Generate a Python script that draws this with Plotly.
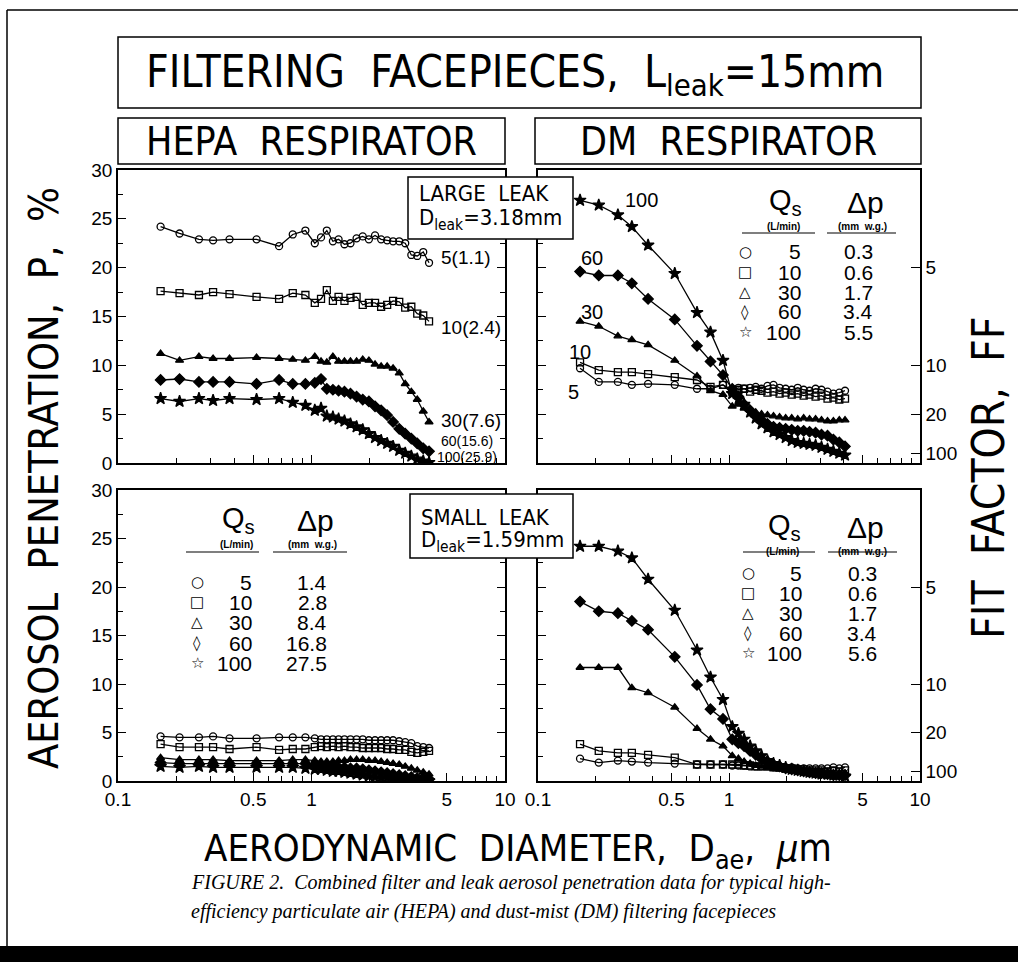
import plotly.graph_objects as go

W, H = 1018, 970

# ---------------- data ----------------
d_um = [0.166, 0.208, 0.262, 0.31, 0.377, 0.52, 0.68, 0.80, 0.93,
        1.04, 1.12, 1.20, 1.29, 1.38, 1.48, 1.59, 1.71, 1.84, 1.98,
        2.13, 2.29, 2.46, 2.64, 2.84, 3.05, 3.28, 3.52, 3.78, 4.05]

flow_qs = [5, 10, 30, 60, 100]

hepa_L_5 = [24.2, 23.5, 22.9, 22.8, 22.9, 22.9, 22.2, 23.4, 23.8, 22.5, 23.1, 23.8, 22.7, 22.9, 22.4,
            22.5, 23.0, 23.2, 22.9, 23.3, 22.9, 22.8, 22.7, 22.7, 22.5, 21.3, 21.2, 21.6, 20.5]
hepa_L_10 = [17.6, 17.4, 17.2, 17.5, 17.3, 17.0, 16.8, 17.4, 17.2, 16.4, 16.8, 17.7, 16.6, 17.0, 16.6,
             16.9, 17.0, 16.2, 16.4, 16.4, 16.0, 16.2, 16.6, 16.5, 15.9, 16.0, 15.3, 15.1, 14.5]
hepa_L_30 = [11.2, 10.5, 10.9, 10.7, 10.7, 10.8, 10.7, 10.6, 10.5, 10.9, 10.4, 10.3, 10.9, 10.4, 10.4,
             10.4, 10.4, 10.6, 10.5, 10.1, 9.9, 9.9, 9.7, 9.2, 8.1, 7.3, 6.5, 5.3, 4.2]
hepa_L_60 = [8.5, 8.6, 8.3, 8.3, 8.3, 8.1, 8.5, 8.1, 8.1, 8.2, 8.6, 7.6, 7.5, 7.4, 7.3,
             7.1, 6.8, 6.5, 6.3, 5.8, 5.4, 4.9, 4.2, 3.5, 3.0, 2.5, 2.0, 1.5, 1.2]
hepa_L_100 = [6.6, 6.3, 6.6, 6.4, 6.6, 6.5, 6.6, 6.2, 5.9, 5.4, 5.6, 4.8, 4.7, 4.5, 4.3,
              4.0, 3.7, 3.4, 3.0, 2.6, 2.3, 2.0, 1.7, 1.3, 1.0, 0.7, 0.4, 0.2, 0.05]

dm_L_5 = [9.7, 8.3, 8.3, 8.0, 8.1, 8.0, 7.6, 7.6, 8.0, 7.5, 7.7, 7.6, 7.7, 7.8, 7.6,
          7.9, 8.0, 7.7, 7.6, 7.5, 7.7, 7.5, 7.4, 7.6, 7.5, 7.3, 7.1, 7.2, 7.4]
dm_L_10 = [10.3, 9.5, 9.3, 9.3, 9.1, 8.8, 8.5, 7.8, 8.0, 7.3, 7.5, 7.6, 7.3, 7.5, 7.4,
           7.2, 7.3, 7.1, 7.2, 7.0, 7.1, 6.9, 7.0, 6.8, 6.9, 6.6, 6.7, 6.5, 6.6]
dm_L_30 = [14.5, 14.0, 13.0, 12.6, 12.1, 10.5, 8.9, 7.4, 7.0, 5.8, 6.0, 5.6, 5.4, 5.2, 5.0,
           4.9, 4.8, 4.7, 4.6, 4.6, 4.5, 4.6, 4.5, 4.5, 4.4, 4.3, 4.3, 4.4, 4.4]
dm_L_60 = [19.6, 19.2, 19.2, 18.4, 16.8, 14.7, 12.0, 10.4, 9.0, 7.6, 6.8, 6.0, 5.4, 4.8, 4.4,
           4.0, 3.7, 3.6, 3.5, 3.4, 3.3, 3.3, 3.2, 3.1, 2.9, 2.8, 2.4, 2.1, 1.7]
dm_L_100 = [26.9, 26.4, 25.4, 24.2, 22.3, 19.4, 15.4, 13.4, 10.5, 7.1, 6.5, 6.0, 5.2, 4.6, 4.0,
            3.6, 3.2, 2.9, 2.6, 2.3, 2.1, 2.0, 1.9, 1.8, 1.6, 1.4, 1.2, 1.0, 0.8]

hepa_S_5 = [4.6, 4.5, 4.5, 4.6, 4.4, 4.4, 4.5, 4.5, 4.5, 4.4, 4.3, 4.3, 4.3, 4.3, 4.3,
            4.3, 4.3, 4.3, 4.2, 4.2, 4.2, 4.2, 4.2, 4.1, 4.0, 3.9, 3.6, 3.5, 3.4]
hepa_S_10 = [3.8, 3.5, 3.5, 3.5, 3.3, 3.5, 3.2, 3.3, 3.3, 3.5, 3.6, 3.5, 3.6, 3.5, 3.6,
             3.5, 3.5, 3.4, 3.4, 3.4, 3.4, 3.3, 3.3, 3.2, 3.2, 3.0, 2.9, 3.0, 3.1]
hepa_S_30 = [2.4, 2.2, 2.2, 2.2, 2.1, 2.1, 2.1, 2.2, 2.2, 2.1, 2.0, 2.0, 2.0, 2.1, 2.1,
             2.2, 2.2, 2.2, 2.1, 2.1, 2.0, 1.9, 1.8, 1.7, 1.5, 1.3, 1.1, 0.9, 0.7]
hepa_S_60 = [1.9, 1.8, 1.8, 1.8, 1.8, 1.8, 1.8, 1.8, 1.8, 1.6, 1.6, 1.5, 1.5, 1.4, 1.4,
             1.3, 1.3, 1.2, 1.1, 1.0, 0.9, 0.8, 0.7, 0.6, 0.5, 0.4, 0.3, 0.3, 0.2]
hepa_S_100 = [1.5, 1.4, 1.5, 1.4, 1.4, 1.4, 1.4, 1.4, 1.3, 1.2, 1.2, 1.1, 1.0, 1.0, 0.9,
              0.8, 0.7, 0.6, 0.5, 0.4, 0.3, 0.3, 0.2, 0.1, 0.1, 0.05, 0.05, 0.02, 0.02]

dm_S_5 = [2.3, 1.9, 2.1, 2.0, 1.9, 1.8, 1.7, 1.7, 1.7, 1.6, 1.6, 1.6, 1.5, 1.5, 1.5,
          1.5, 1.4, 1.4, 1.4, 1.4, 1.3, 1.3, 1.3, 1.3, 1.3, 1.3, 1.4, 1.3, 1.4]
dm_S_10 = [3.8, 3.1, 2.9, 2.9, 2.7, 2.4, 1.7, 1.7, 1.7, 1.7, 1.7, 1.6, 1.6, 1.5, 1.5,
           1.5, 1.4, 1.4, 1.3, 1.3, 1.2, 1.2, 1.1, 1.1, 1.1, 1.0, 1.1, 1.0, 1.1]
dm_S_30 = [11.7, 11.7, 11.7, 9.6, 9.1, 7.6, 5.4, 4.3, 3.6, 2.6, 2.3, 2.0, 1.8, 1.6, 1.5,
           1.4, 1.3, 1.2, 1.1, 1.1, 1.0, 1.0, 0.9, 0.9, 0.8, 0.8, 0.7, 0.8, 0.8]
dm_S_60 = [18.5, 17.5, 17.3, 16.5, 15.6, 12.8, 9.9, 7.4, 6.4, 4.3, 3.9, 3.6, 3.1, 2.7, 2.3,
           2.0, 1.7, 1.5, 1.3, 1.2, 1.1, 1.0, 0.9, 0.8, 0.8, 0.7, 0.6, 0.6, 0.6]
dm_S_100 = [24.2, 24.2, 23.7, 23.0, 20.8, 17.6, 13.5, 10.7, 8.4, 5.6, 4.9, 4.3, 3.6, 3.1, 2.6,
            2.1, 1.8, 1.6, 1.4, 1.2, 1.1, 1.0, 0.9, 0.8, 0.7, 0.7, 0.6, 0.6, 0.5]

dp_hepa_S = ["1.4", "2.8", "8.4", "16.8", "27.5"]
dp_dm_L = ["0.3", "0.6", "1.7", "3.4", "5.5"]
dp_dm_S = ["0.3", "0.6", "1.7", "3.4", "5.6"]
hepa_L_labels = ["5(1.1)", "10(2.4)", "30(7.6)", "60(15.6)", "100(25.9)"]
dm_L_labels = ["5", "10", "30", "60", "100"]

x_major = [0.1, 0.5, 1, 5, 10]
x_major_text = ["0.1", "0.5", "1", "5", "10"]
x_minor = [0.2, 0.3, 0.4, 0.6, 0.7, 0.8, 0.9, 2, 3, 4, 6, 7, 8, 9]
p_ticks = [0, 5, 10, 15, 20, 25, 30]
p_minor = [2.5, 7.5, 12.5, 17.5, 22.5, 27.5]
ff_tickvals = [20, 10, 5, 1]
ff_ticktext = ["5", "10", "20", "100"]

# ---------------- helpers ----------------
def fx(px):
    return px / W


def fy(py):
    return 1 - py / H


NARROW = "Liberation Sans Narrow, DejaVu Sans Condensed, sans-serif"
SANS = "Liberation Sans, Arial, sans-serif"
SERIF = "Liberation Serif, Times New Roman, serif"
SYM = "DejaVu Sans, sans-serif"

symbols = ["circle-open", "square-open", "triangle-up", "diamond", "star"]
msizes = [7, 7, 7, 8, 9]
legend_syms = ["○", "□", "△", "◊", "☆"]

fig = go.Figure()

panels = [
    ("x", "y", [hepa_L_5, hepa_L_10, hepa_L_30, hepa_L_60, hepa_L_100]),
    ("x2", "y2", [dm_L_5, dm_L_10, dm_L_30, dm_L_60, dm_L_100]),
    ("x3", "y3", [hepa_S_5, hepa_S_10, hepa_S_30, hepa_S_60, hepa_S_100]),
    ("x4", "y4", [dm_S_5, dm_S_10, dm_S_30, dm_S_60, dm_S_100]),
]
for xa, ya, series in panels:
    for i, s in enumerate(series):
        fig.add_trace(go.Scatter(
            x=d_um, y=s, xaxis=xa, yaxis=ya, mode="lines+markers",
            line=dict(color="black", width=1.3),
            marker=dict(symbol=symbols[i], size=msizes[i], color="black",
                        line=dict(color="black", width=1.3)),
            showlegend=False, hoverinfo="skip"))

# panel pixel boxes
LX = (118, 505)
RX = (538, 920)
TY = (170, 463)
BY = (490, 781)


def xaxis_cfg(xr, anchor, labels):
    return dict(domain=[fx(xr[0]), fx(xr[1])], anchor=anchor, type="log", range=[-1, 1],
                tickmode="array", tickvals=x_major, ticktext=x_major_text,
                showticklabels=labels,
                ticks="inside", ticklen=8, tickwidth=1.2, tickcolor="black",
                minor=dict(tickmode="array", tickvals=x_minor, ticks="inside", ticklen=5,
                           tickcolor="black", tickwidth=1.2),
                showline=True, linecolor="black", linewidth=1.5, mirror=True,
                showgrid=False, zeroline=False, automargin=False,
                tickfont=dict(family=SANS, size=19, color="black"))


def yaxis_cfg(yr, anchor, labels, mirror):
    return dict(domain=[fy(yr[1]), fy(yr[0])], anchor=anchor, range=[0, 30],
                tickmode="array", tickvals=p_ticks, showticklabels=labels,
                ticks="inside", ticklen=8, tickwidth=1.2, tickcolor="black",
                minor=dict(tickmode="array", tickvals=p_minor, ticks="inside", ticklen=5,
                           tickcolor="black", tickwidth=1.2),
                showline=True, linecolor="black", linewidth=1.5, mirror=mirror,
                showgrid=False, zeroline=False, automargin=False,
                tickfont=dict(family=SANS, size=19, color="black"))


def ff_cfg(overlay, anchor):
    return dict(overlaying=overlay, anchor=anchor, side="right", range=[0, 30],
                tickmode="array", tickvals=ff_tickvals, ticktext=ff_ticktext,
                ticks="inside", ticklen=9, tickwidth=1.2, tickcolor="black",
                showline=True, linecolor="black", linewidth=1.5,
                showgrid=False, zeroline=False, automargin=False,
                tickfont=dict(family=SANS, size=19, color="black"))


fig.update_layout(
    template="none",
    width=W, height=H, margin=dict(l=0, r=0, t=0, b=0, pad=0, autoexpand=False),
    paper_bgcolor="white", plot_bgcolor="white",
    xaxis=xaxis_cfg(LX, "y", False),
    yaxis=yaxis_cfg(TY, "x", True, "ticks"),
    xaxis2=xaxis_cfg(RX, "y2", False),
    yaxis2=yaxis_cfg(TY, "x2", False, False),
    xaxis3=xaxis_cfg(LX, "y3", True),
    yaxis3=yaxis_cfg(BY, "x3", True, "ticks"),
    xaxis4=xaxis_cfg(RX, "y4", True),
    yaxis4=yaxis_cfg(BY, "x4", False, False),
    yaxis5=ff_cfg("y2", "x2"),
    yaxis6=ff_cfg("y4", "x4"),
)
# invisible anchor traces so the FF axes render
fig.add_trace(go.Scatter(x=[0.1], y=[0], xaxis="x2", yaxis="y5", mode="markers",
                         marker=dict(opacity=0), showlegend=False, hoverinfo="skip"))
fig.add_trace(go.Scatter(x=[0.1], y=[0], xaxis="x4", yaxis="y6", mode="markers",
                         marker=dict(opacity=0), showlegend=False, hoverinfo="skip"))

shapes = []


def rect(x0, y0, x1, y1, fill=None, width=1.5, layer="above"):
    shapes.append(dict(type="rect", xref="paper", yref="paper",
                       x0=fx(x0), x1=fx(x1), y0=fy(y1), y1=fy(y0),
                       line=dict(color="black", width=width),
                       fillcolor=fill if fill else "rgba(0,0,0,0)", layer=layer))


def hline(x0, x1, y, width=1.2):
    shapes.append(dict(type="line", xref="paper", yref="paper",
                       x0=fx(x0), x1=fx(x1), y0=fy(y), y1=fy(y),
                       line=dict(color="black", width=width)))


def vline(x, y0, y1, width=1.5):
    shapes.append(dict(type="line", xref="paper", yref="paper",
                       x0=fx(x), x1=fx(x), y0=fy(y0), y1=fy(y1),
                       line=dict(color="black", width=width)))


# outer frame
vline(7, 10, 946, 1.5)
hline(7, 1018, 10, 1.5)
rect(0, 946, 1018, 962, fill="black", width=0)
# title boxes
rect(118, 37, 921, 108)
rect(118, 118, 505, 164)
rect(535, 118, 921, 164)
# leak boxes
rect(408, 177, 573, 239, fill="white")
rect(410, 494, 573, 558, fill="white")
# legend underlines
hline(742, 815, 233); hline(827, 896, 233)
hline(186, 259, 552); hline(273, 347, 552)
hline(743, 815, 552); hline(828, 897, 552)

ann = []


def text(x, y, t, size, family=NARROW, xanchor="center", yanchor="middle", angle=0):
    ann.append(dict(x=fx(x), y=fy(y), xref="paper", yref="paper", text=t, showarrow=False,
                    xanchor=xanchor, yanchor=yanchor, textangle=angle, borderpad=0,
                    font=dict(family=family, size=size, color="black")))


text(515, 75, "FILTERING  FACEPIECES,  L<sub>leak</sub>=15mm", 44)
text(311, 141, "HEPA  RESPIRATOR", 39)
text(728, 141, "DM  RESPIRATOR", 39)
text(44, 478, "AEROSOL  PENETRATION,  P,  %", 41, angle=-90)
text(988, 478, "FIT  FACTOR,  FF", 44, angle=-90)
text(518, 850, "AERODYNAMIC  DIAMETER,  D<sub>ae</sub>,  <i>μ</i>m", 38)
text(190, 882, "<i>FIGURE 2.  Combined filter and leak aerosol penetration data for typical high-</i>",
     20, family=SERIF, xanchor="left")
text(190, 911, "<i>efficiency particulate air (HEPA) and dust-mist (DM) filtering facepieces</i>",
     20, family=SERIF, xanchor="left")

# leak box texts
text(418, 194, "LARGE  LEAK", 22, xanchor="left")
text(418, 220, "D<sub>leak</sub>=3.18mm", 22, xanchor="left")
text(420, 517, "SMALL  LEAK", 22, xanchor="left")
text(420, 541, "D<sub>leak</sub>=1.59mm", 22, xanchor="left")

# series labels, top-left
hl_pos = [(440, 258, 19), (440, 327, 19), (440, 420, 19), (440, 441, 14), (436, 457, 14)]
for lab, (x, y, s) in zip(hepa_L_labels, hl_pos):
    text(x, y, lab, s, family=SANS, xanchor="left")
# series labels, top-right
dl_pos = [(573, 392), (580, 352), (592, 312), (592, 258), (641, 200)]
for lab, (x, y) in zip(dm_L_labels, dl_pos):
    text(x, y, lab, 20, family=SANS)


def legend_table(qx, dpx, qy, rows_y, sym_x, num_x, dp_x, dp_vals, dp_anchor):
    text(qx, qy - 3, "Q<sub>s</sub>", 29, family=SANS)
    text(qx - 2, qy + 21, "<b>(L/min)</b>", 10, family=SANS)
    text(dpx, qy - 3, "Δp", 30, family=SANS)
    text(dpx - 3, qy + 21, "<b>(mm  w.g.)</b>", 10, family=SANS)
    for i, ry in enumerate(rows_y):
        text(sym_x, ry, legend_syms[i], 15, family=SYM)
        text(num_x, ry, str(flow_qs[i]), 21, family=SANS, xanchor="right")
        text(dp_x, ry, dp_vals[i], 21, family=SANS, xanchor=dp_anchor)


legend_table(785, 865, 205, [252, 272, 292, 312, 332], 745, 802, 858, dp_dm_L, "center")
legend_table(238, 315, 523, [582, 602, 622, 643, 663], 197, 253, 328, dp_hepa_S, "right")
legend_table(784, 865, 530, [573, 593, 613, 633, 653], 748, 803, 862, dp_dm_S, "center")

fig.update_layout(shapes=shapes, annotations=ann)
fig.write_html("out.html")
